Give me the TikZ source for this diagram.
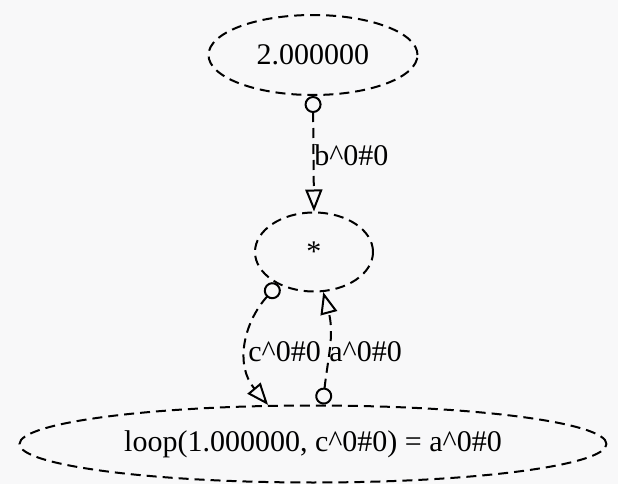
\documentclass[tikz,border=0pt]{standalone}
\usepackage{fontspec}
\setmainfont{Liberation Serif}
\usetikzlibrary{shapes.geometric,arrows.meta}
\definecolor{canvas}{RGB}{248,248,249}
\tikzset{
  dfnode/.style={ellipse, draw, line width=1pt, dash pattern=on 5pt off 3pt,
                 inner sep=0pt, font=\fontsize{15}{17}\selectfont},
  dfedge/.style={draw, line width=1pt, dash pattern=on 5pt off 3pt,
                 {Circle[open,length=8.5pt,width=8.5pt]}-{Triangle[open,length=11pt,width=8.5pt]}},
  dflabel/.style={anchor=west, inner sep=0pt, font=\fontsize{15}{17}\selectfont}
}
\begin{document}
\begin{tikzpicture}[x=0.5pt, y=0.5pt]
  \useasboundingbox[fill=canvas] (0,0) rectangle (618,484);
  % the three operations
  \node[dfnode, minimum width=104.5pt, minimum height=40pt] (const) at (313,429) {2.000000};
  \node[dfnode, minimum width=59pt, minimum height=39.5pt] (mul) at (314,232) {*};
  \node[dfnode, minimum width=293.5pt, minimum height=38.5pt] (loop) at (313,40)
    {loop(1.000000, c\textasciicircum0\#0) = a\textasciicircum0\#0};
  % the values passed between them
  \draw[dfedge] (const.south) -- (mul.north);
  \draw[dfedge] (mul.222) to[out=228, in=130, looseness=1.1] (loop.139);
  \draw[dfedge] (loop.76) to[out=84, in=-75] (mul.283);
  \node[dflabel] (lb) at (314,329) {b\textasciicircum0\#0};
  \node[dflabel] (lc) at (248,132) {c\textasciicircum0\#0};
  \node[dflabel] (la) at (329,132) {a\textasciicircum0\#0};
\end{tikzpicture}
\end{document}
